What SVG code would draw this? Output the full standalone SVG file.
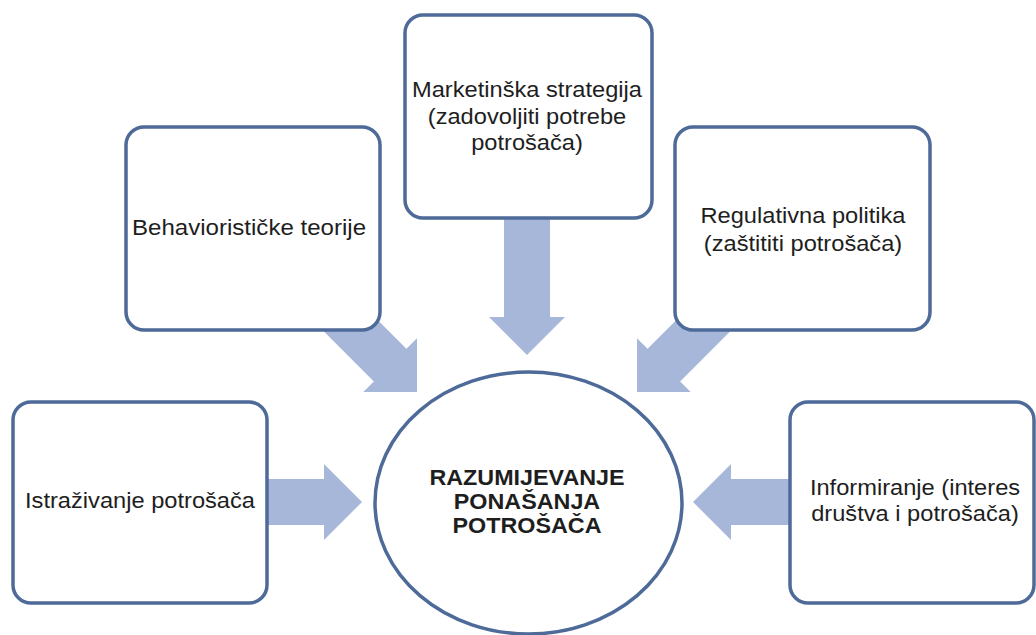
<svg xmlns="http://www.w3.org/2000/svg" width="1036" height="635" viewBox="0 0 1036 635">
  <style>
    .box { fill: #ffffff; stroke: #4d6a98; stroke-width: 3.5; }
    .arrow { fill: #a7b7d9; }
    .lbl { font-family: "Liberation Sans", Arial, sans-serif; font-size: 21.5px; fill: #1e1e1e; text-anchor: middle; }
    .bold { font-weight: bold; }
  </style>
  <defs>
    <polygon id="arr" points="0,0 -38,-38 -38,-23 -200,-23 -200,23 -38,23 -38,38"/>
  </defs>
  <rect width="1036" height="635" fill="#ffffff"/>
  <g id="connectors">
    <use href="#arr" class="arrow" transform="translate(527,355) rotate(90) translate(0,0)"/>
    <use href="#arr" class="arrow" transform="translate(417,392) rotate(45)"/>
    <use href="#arr" class="arrow" transform="translate(637,392) rotate(135)"/>
    <use href="#arr" class="arrow" transform="translate(362,502)"/>
    <use href="#arr" class="arrow" transform="translate(693,502) rotate(180)"/>
  </g>
  <g id="node-marketing">
    <rect class="box" x="405" y="15" width="247" height="203" rx="18"/>
    <g transform="translate(527,0) scale(1.1,1)">
      <text class="lbl" x="0" y="97">Marketinška strategija</text>
      <text class="lbl" x="0" y="124">(zadovoljiti potrebe</text>
      <text class="lbl" x="0" y="150">potrošača)</text>
    </g>
  </g>
  <g id="node-behavior">
    <rect class="box" x="126" y="127" width="254" height="203" rx="18"/>
    <g transform="translate(249,0) scale(1.12,1)">
      <text class="lbl" x="0" y="235">Behaviorističke teorije</text>
    </g>
  </g>
  <g id="node-regulativna">
    <rect class="box" x="675" y="127" width="255" height="203" rx="18"/>
    <g transform="translate(803,0) scale(1.1,1)">
      <text class="lbl" x="0" y="223">Regulativna politika</text>
      <text class="lbl" x="0" y="251">(zaštititi potrošača)</text>
    </g>
  </g>
  <g id="node-istrazivanje">
    <rect class="box" x="13" y="402" width="254" height="201" rx="18"/>
    <g transform="translate(140,0) scale(1.1,1)">
      <text class="lbl" x="0" y="508">Istraživanje potrošača</text>
    </g>
  </g>
  <g id="node-informiranje">
    <rect class="box" x="790" y="402" width="244" height="201" rx="18"/>
    <g transform="translate(915,0) scale(1.1,1)">
      <text class="lbl" x="0" y="495">Informiranje (interes</text>
      <text class="lbl" x="0" y="521">društva i potrošača)</text>
    </g>
  </g>
  <g id="node-center">
    <ellipse class="box" cx="528.5" cy="503" rx="153.5" ry="131"/>
    <g transform="translate(527,0) scale(1.085,1)">
      <text class="lbl bold" x="0" y="485">RAZUMIJEVANJE</text>
      <text class="lbl bold" x="0" y="509">PONAŠANJA</text>
      <text class="lbl bold" x="0" y="533">POTROŠAČA</text>
    </g>
  </g>
</svg>
